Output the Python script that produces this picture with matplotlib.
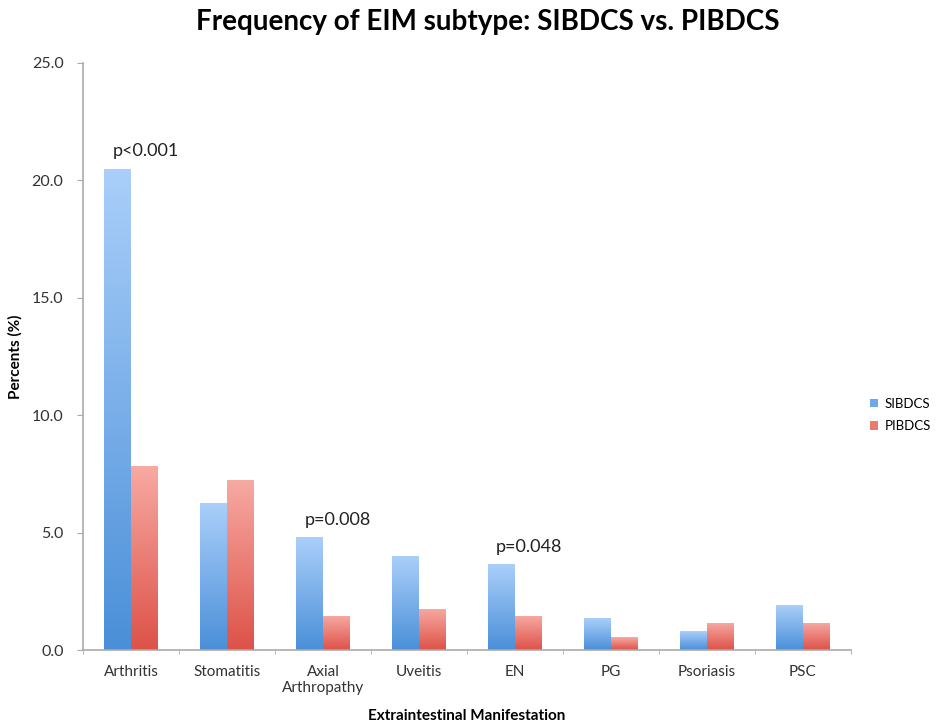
import numpy as np
import matplotlib
matplotlib.use('Agg')
from matplotlib import pyplot as plt
from matplotlib.colors import LinearSegmentedColormap
from matplotlib.patches import Patch

# data
categories = ['Arthritis', 'Stomatitis', 'Axial\nArthropathy', 'Uveitis',
              'EN', 'PG', 'Psoriasis', 'PSC']
sibdcs = [20.5, 6.25, 4.8, 4.0, 3.65, 1.35, 0.8, 1.9]
pibdcs = [7.85, 7.25, 1.45, 1.75, 1.45, 0.55, 1.15, 1.15]
pvals = {0: 'p<0.001', 2: 'p=0.008', 4: 'p=0.048'}

plt.rcParams['font.family'] = ['Lato', 'DejaVu Sans']

fig = plt.figure(figsize=(9.48, 7.28), dpi=100)
# axis box: x 83..851 px, y 63..650 px
ax = fig.add_axes([83/948, 78/728, 768/948, 587/728])

x = np.arange(len(categories))
w = 0.28
blue_cm = LinearSegmentedColormap.from_list('b', ['#4a8fd8', '#aacffa'])
red_cm = LinearSegmentedColormap.from_list('r', ['#dd5248', '#f7aaa3'])

def gradient_bars(bars, cmap):
    grad = np.linspace(0, 1, 256).reshape(-1, 1)
    for b in bars:
        x0, y0 = b.get_x(), b.get_y()
        x1, y1 = x0 + b.get_width(), y0 + b.get_height()
        # each bar: dark at the base, light at its top
        im = ax.imshow(grad, cmap=cmap, origin='lower', aspect='auto',
                       extent=[x0, x1, y0, y1], zorder=2)
        im.set_clip_path(b)
        b.set_facecolor('none')

b1 = ax.bar(x - w/2, sibdcs, w, color='#6fa8e8', edgecolor='none', zorder=2)
b2 = ax.bar(x + w/2, pibdcs, w, color='#ea7a70', edgecolor='none', zorder=2)
gradient_bars(b1, blue_cm)
gradient_bars(b2, red_cm)

for i, t in pvals.items():
    ax.text(x[i] + 0.15, sibdcs[i] + 0.75, t, ha='center', va='center',
            fontsize=13, color='#222222')

ax.set_xlim(-0.5, len(categories) - 0.5)
ax.set_ylim(0, 25)
ax.set_yticks([0, 5, 10, 15, 20, 25])
ax.set_yticklabels(['%.1f' % v for v in [0, 5, 10, 15, 20, 25]], fontsize=11.5)
ax.set_xticks(x)
ax.set_xticklabels(categories, fontsize=11, color='#333333')
ax.tick_params(axis='x', length=0, pad=11)
ax.set_xticks(np.arange(-0.5, len(categories), 1), minor=True)
ax.tick_params(axis='x', which='minor', length=3, color='#aaaaaa', direction='out')
ax.tick_params(axis='y', length=4, color='#aaaaaa', pad=10, labelcolor='#333333')

for s in ['top', 'right']:
    ax.spines[s].set_visible(False)
for s in ['left', 'bottom']:
    ax.spines[s].set_color('#aaaaaa')
    ax.spines[s].set_linewidth(1.2)

ax.set_ylabel('Percents (%)', fontsize=11, fontweight='bold')
ax.yaxis.set_label_coords(-0.079, 0.5)
ax.set_xlabel('Extraintestinal Manifestation', fontsize=11, fontweight='bold', labelpad=10)

fig.text(488/948, 1 - 22/728, 'Frequency of EIM subtype: SIBDCS vs. PIBDCS',
         ha='center', va='center', fontsize=20, fontweight='bold')

handles = [Patch(facecolor='#6fa8e8'), Patch(facecolor='#ea7a70')]
fig.legend(handles, ['SIBDCS', 'PIBDCS'], loc='center left',
           bbox_to_anchor=(858/948, 1 - 415/728), frameon=False, fontsize=9.5,
           handlelength=0.6, handleheight=0.6, labelspacing=0.8, handletextpad=0.5)

plt.savefig('out.png', dpi=100)
plt.close()
